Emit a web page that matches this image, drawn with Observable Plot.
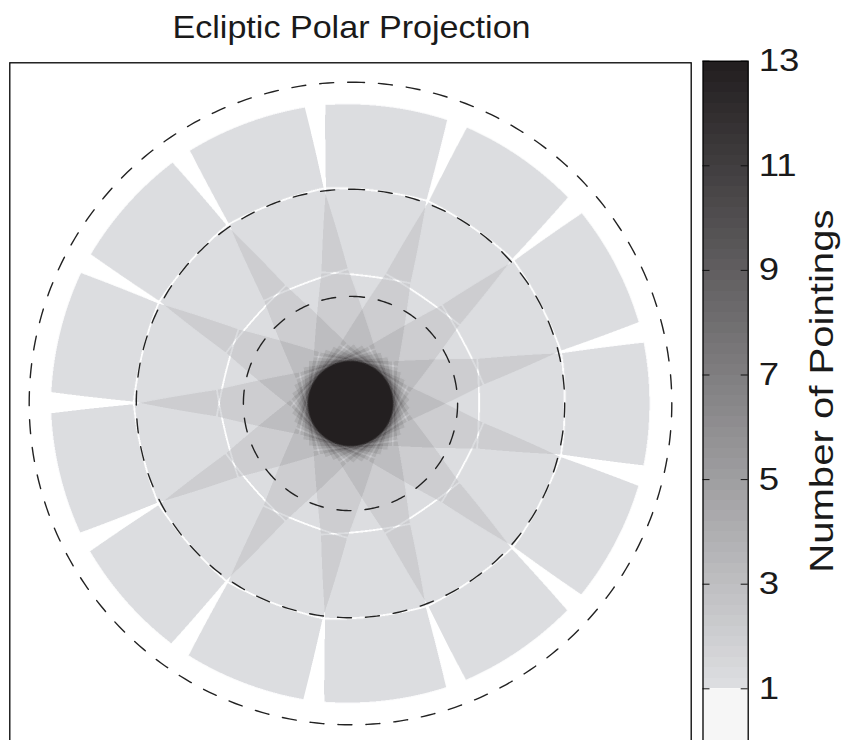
<!DOCTYPE html>
<html><head><meta charset="utf-8">
<script src="https://cdn.jsdelivr.net/npm/d3@7"></script>
<script src="https://cdn.jsdelivr.net/npm/@observablehq/plot@0.6"></script>
<style>
html,body{margin:0;padding:0;background:#fff;overflow:hidden}
#chart{position:relative;width:845px;height:740px;overflow:hidden}
#chart svg{position:absolute;top:0;background:transparent}
</style></head><body><div id="chart"></div>
<script>
// ---- data ----
const sectorAzimuths = [7.0, 34.7, 62.4, 90.1, 117.8, 145.5, 173.2, 200.9, 228.6, 256.3, 284.0, 311.7, 339.4]; // central meridian of each of the 13 sectors (deg, clockwise from up)
const cameraLatitudes = [18, 42, 66, 90];   // boresight ecliptic latitude of cameras 1-4
const cameraFieldDeg = 24;                  // square field of view of one camera
const cameraGapDeg = 0.5;                   // gap between adjacent cameras
const dashedLatitudes = [0, 30, 60];
const colorbarTicks = [1, 3, 5, 7, 9, 11, 13];
const countDomain = [0, 1, 13];
const countColors = ["#ffffff", "#dcdde0", "#231f20"];
const colorbarLevels = 60;
const extentDeg = 95.43;                    // half width of the square map (deg from pole)
const titleText = "Ecliptic Polar Projection";
const colorbarLabel = "Number of Pointings";

const FONT = '"Liberation Sans", Arial, Helvetica, sans-serif';
const DEG = Math.PI / 180;
const T = Math.tan(cameraFieldDeg / 2 * DEG);
const TE = Math.tan((cameraFieldDeg / 2 - cameraGapDeg / 2) * DEG);
const cams = cameraLatitudes.map(lat => {
  const c0 = 90 - lat;
  return {c0, s: Math.sin(c0 * DEG), c: Math.cos(c0 * DEG)};
});
const secs = sectorAzimuths.map(a => ({cs: Math.cos(a * DEG), sn: Math.sin(a * DEG)}));

// number of camera pointings covering a point given in polar-plane degrees
function pointings(x, y) {
  const colat = Math.hypot(x, y);
  if (colat > 86) return 0;
  const sc = Math.sin(colat * DEG), cc = Math.cos(colat * DEG);
  const ca = colat > 0 ? y / colat : 1, sa = colat > 0 ? x / colat : 0;
  let n = 0;
  for (const s of secs) {
    const cd = ca * s.cs + sa * s.sn;
    const sd = sa * s.cs - ca * s.sn;
    const px = sc * sd, py = sc * cd, pz = cc;
    for (const k of cams) {
      if (Math.abs(colat - k.c0) > 18) continue;
      const w = py * k.s + pz * k.c;
      if (w <= 0) continue;
      const xi = px / w;
      const eta = (-py * k.c + pz * k.s) / w;
      if (Math.abs(xi) <= T && Math.abs(eta) <= TE) { n++; break; }
    }
  }
  return n;
}

const frameW = 681.4;
const d = (2 * extentDeg / frameW) / 4;
const fillFn = (x, y) => (pointings(x - d, y - d) + pointings(x + d, y - d) + pointings(x - d, y + d) + pointings(x + d, y + d)) / 4;

const circlePts = dashedLatitudes.flatMap(lat => d3.range(0, 361, 1).map(a => ({
  lat, x: (90 - lat) * Math.sin(a * DEG), y: (90 - lat) * Math.cos(a * DEG)
})));

const colorSpec = {type: "linear", domain: countDomain, range: countColors};

const main = Plot.plot({
  width: 695, height: 760,
  marginLeft: 9.3, marginRight: 4.3, marginTop: 62.3, marginBottom: 16.3,
  style: {fontFamily: FONT, background: "transparent", overflow: "visible"},
  x: {domain: [-extentDeg, extentDeg], axis: null},
  y: {domain: [-extentDeg, extentDeg], axis: null},
  color: colorSpec,
  marks: [
    Plot.raster({fill: fillFn, x1: -extentDeg, x2: extentDeg, y1: -extentDeg, y2: extentDeg, pixelSize: 1}),
    Plot.line(circlePts, {x: "x", y: "y", z: "lat", stroke: "#222", strokeWidth: 1.4, strokeDasharray: "14,14"}),
    Plot.frame({stroke: "black", strokeWidth: 1.3}),
    Plot.text([titleText], {frameAnchor: "top", dx: 1, dy: -25.3, lineAnchor: "bottom", fontSize: 31, fill: "#1a1a1a"})
  ]
});

const bands = d3.range(colorbarLevels).map(i => ({
  y1: 1 + i * 12 / colorbarLevels,
  y2: 1 + (i + 1) * 12 / colorbarLevels,
  v: 1 + i * 12 / (colorbarLevels - 1)
}));

const bar = Plot.plot({
  width: 150, height: 760,
  marginLeft: 7.5, marginRight: 97.3, marginTop: 60.7, marginBottom: 19.4,
  style: {fontFamily: FONT, background: "transparent", overflow: "visible"},
  x: {domain: [0, 1], axis: null},
  y: {domain: [0, 13], axis: null},
  color: colorSpec,
  marks: [
    Plot.rect([{y1: 0, y2: 1}], {x1: 0, x2: 1, y1: "y1", y2: "y2", fill: "#f6f6f6"}),
    Plot.rect(bands, {x1: 0, x2: 1, y1: "y1", y2: "y2", fill: "v", shapeRendering: "crispEdges"}),
    Plot.tickY(colorbarTicks, {y: t => t, insetRight: 38.2, stroke: "#111", strokeWidth: 1}),
    Plot.tickY(colorbarTicks, {y: t => t, insetLeft: 38.2, stroke: "#111", strokeWidth: 1}),
    Plot.frame({stroke: "black", strokeWidth: 1.3}),
    Plot.text(colorbarTicks, {y: t => t, text: t => String(t), frameAnchor: "right", dx: 10.5, textAnchor: "start", lineAnchor: "middle", fontSize: 31, fill: "#1a1a1a"}),
    Plot.text([colorbarLabel], {frameAnchor: "right", dx: 84.3, dy: -10, rotate: -90, textAnchor: "middle", lineAnchor: "bottom", fontSize: 34, fill: "#1a1a1a"})
  ]
});

main.style.left = "0px";
bar.style.left = "695px";
const chart = document.getElementById("chart");
chart.appendChild(main);
chart.appendChild(bar);

function stretch(svg, sx) {
  svg.querySelectorAll("text").forEach(t => {
    const tr = t.getAttribute("transform") || "";
    t.setAttribute("transform", tr + ` scale(${sx},1)`);
    const x = t.getAttribute("x");
    if (x != null && x !== "") t.setAttribute("x", +x / sx);
  });
}
stretch(main, 1.1);
stretch(bar, 1.18);
</script>
</body></html>
